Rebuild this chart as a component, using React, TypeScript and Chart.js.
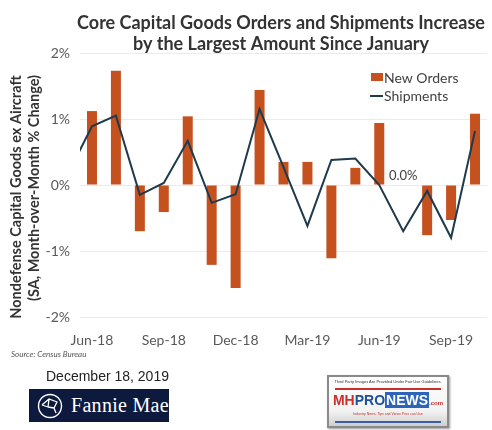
import React, { useEffect, useRef } from "react";
import { Chart, registerables } from "chart.js";
Chart.register(...registerables);

const MONTHS = ["May-18", "Jun-18", "Jul-18", "Aug-18", "Sep-18", "Oct-18", "Nov-18", "Dec-18", "Jan-19", "Feb-19", "Mar-19", "Apr-19", "May-19", "Jun-19", "Jul-19", "Aug-19", "Sep-19", "Oct-19"];
const NEW_ORDERS: (number | null)[] = [null, 1.12, 1.73, -0.7, -0.41, 1.04, -1.21, -1.56, 1.44, 0.35, 0.35, -1.11, 0.26, 0.94, 0.0, -0.76, -0.53, 1.08];
const SHIPMENTS = [0.17, 0.89, 1.05, -0.15, 0.03, 0.67, -0.27, -0.14, 1.15, 0.27, -0.62, 0.38, 0.4, 0.0, -0.7, -0.09, -0.8, 0.82];
const TICK_MONTHS = ["Jun-18", "Sep-18", "Dec-18", "Mar-19", "Jun-19", "Sep-19"];
const Y_TICKS = [-2, -1, 0, 1, 2];
const LABEL_MONTH = "Jul-19";
const LABEL_TEXT = "0.0%";

const TITLE = ["Core Capital Goods Orders and Shipments Increase", "by the Largest Amount Since January"];
const Y_TITLE = ["Nondefense Capital Goods ex Aircraft", "(SA, Month-over-Month % Change)"];

const ORANGE = "#C5511F";
const NAVY = "#1E3A4C";
const TEXT = "#404040";
const FONT = "Lato, 'Open Sans', sans-serif";

export default function App() {
  const ref = useRef<HTMLCanvasElement | null>(null);
  useEffect(() => {
    const canvas = ref.current!;
    const decor = {
      id: "decor",
      afterDraw(chart: any) {
        const ctx = chart.ctx as CanvasRenderingContext2D;
        const { x, y } = chart.scales;
        ctx.save();
        // title
        ctx.fillStyle = "#333";
        ctx.font = `bold 18px ${FONT}`;
        ctx.textAlign = "center";
        ctx.textBaseline = "middle";
        ctx.fillText(TITLE[0], 281, 23);
        ctx.fillText(TITLE[1], 281, 44);
        // y title
        ctx.fillStyle = "#333";
        ctx.font = `bold 14.5px ${FONT}`;
        ctx.save();
        ctx.translate(16, 197);
        ctx.rotate(-Math.PI / 2);
        ctx.fillText(Y_TITLE[0], 0, 0);
        ctx.restore();
        ctx.save();
        ctx.translate(34, 188);
        ctx.rotate(-Math.PI / 2);
        ctx.fillText(Y_TITLE[1], 0, 0);
        ctx.restore();
        // legend
        ctx.fillStyle = ORANGE;
        ctx.fillRect(371, 73, 12, 8);
        ctx.strokeStyle = NAVY;
        ctx.lineWidth = 2;
        ctx.beginPath();
        ctx.moveTo(370, 96);
        ctx.lineTo(383, 96);
        ctx.stroke();
        ctx.fillStyle = TEXT;
        ctx.font = `14px ${FONT}`;
        ctx.textAlign = "left";
        ctx.fillText("New Orders", 384, 78);
        ctx.fillText("Shipments", 384, 96);
        // data label
        ctx.textAlign = "center";
        ctx.font = `13px ${FONT}`;
        ctx.fillText(LABEL_TEXT, x.getPixelForValue(MONTHS.indexOf(LABEL_MONTH)), y.getPixelForValue(0) - 9);
        // source
        ctx.textAlign = "left";
        ctx.font = `italic 8px ${FONT}`;
        ctx.fillStyle = "#555";
        ctx.fillText("Source: Census Bureau", 11, 354);
        // date
        ctx.font = `14px 'Liberation Sans', Arial, sans-serif`;
        ctx.fillStyle = "#222";
        ctx.fillText("December 18, 2019", 46, 377);
        ctx.restore();
      },
    };
    const chart = new Chart(canvas, {
      data: {
        datasets: [
          {
            type: "line",
            label: "Shipments",
            data: SHIPMENTS.map((v, i) => ({ x: i, y: v })),
            borderColor: NAVY,
            borderWidth: 2,
            pointRadius: 0,
            tension: 0,
            clip: 0,
            order: 0,
          },
          {
            type: "bar",
            label: "New Orders",
            data: NEW_ORDERS.map((v, i) => ({ x: i, y: v })).filter((d) => d.y !== null) as any,
            backgroundColor: ORANGE,
            barThickness: 10,
            inflateAmount: 0,
            borderWidth: 0,
            order: 1,
          },
        ],
      },
      options: {
        animation: false,
        responsive: false,
        maintainAspectRatio: false,
        layout: { padding: { top: 53, right: 5, bottom: 83, left: 0 } },
        plugins: { legend: { display: false }, tooltip: { enabled: false }, title: { display: false } },
        scales: {
          x: {
            type: "linear",
            offset: false,
            min: 0.5,
            max: MONTHS.length - 0.5,
            grid: { display: false, drawTicks: false, offset: false },
            border: { display: false },
            afterBuildTicks: (s: any) => {
              s.ticks = TICK_MONTHS.map((m) => ({ value: MONTHS.indexOf(m) }));
            },
            afterFit: (s: any) => {
              s.height = 30;
            },
            ticks: {
              autoSkip: false,
              maxRotation: 0,
              padding: 15,
              color: "#595959",
              font: { family: FONT, size: 14 },
              callback: (v: any) => MONTHS[Math.round(v)],
            },
          },
          y: {
            type: "linear",
            min: -2,
            max: 2,
            grid: { color: "#ebebeb", drawTicks: false, lineWidth: 1 },
            border: { display: false },
            afterBuildTicks: (s: any) => {
              s.ticks = Y_TICKS.map((v) => ({ value: v }));
            },
            afterFit: (s: any) => {
              s.width = 80;
            },
            ticks: {
              padding: 10,
              color: "#595959",
              font: { family: FONT, size: 14 },
              callback: (v: any) => `${v}%`,
            },
          },
        },
      },
      plugins: [decor],
    } as any);
    return () => chart.destroy();
  }, []);

  return (
    <div style={{ position: "fixed", left: 0, top: 0, width: 492, height: 430, background: "#fff", overflow: "hidden" }}>
      <canvas ref={ref} width={492} height={430} style={{ position: "absolute", left: 0, top: 0, width: 492, height: 430 }} />
      <div
        style={{
          position: "absolute", left: 29, top: 389, width: 140, height: 33, background: "#0E1A3D",
          display: "flex", alignItems: "center", fontFamily: "'Liberation Serif', 'DejaVu Serif', serif", color: "#fff",
          whiteSpace: "nowrap", overflow: "hidden",
        }}
      >
        <svg width="26" height="26" viewBox="0 0 26 26" style={{ marginLeft: 8, marginRight: 8, flex: "none" }}>
          <circle cx="13" cy="13" r="11.5" fill="none" stroke="#fff" strokeWidth="1.4" />
          <path d="M5 12 L12 6 L20 9 L17 15 L19 20 M12 6 L11 14 L5 12 M11 14 L17 15" fill="none" stroke="#fff" strokeWidth="1.3" />
        </svg>
        <span style={{ fontSize: 20, letterSpacing: 0.3 }}>Fannie Mae</span>
        <span style={{ fontSize: 5, alignSelf: "flex-start", marginTop: 9 }}>®</span>
      </div>
      <div
        style={{
          position: "absolute", left: 327, top: 375, width: 118, height: 49, border: "2px solid #8a8a8a",
          background: "linear-gradient(#ffffff, #f2f2f2 70%, #cfcfcf)", fontFamily: "'Liberation Sans', Arial, sans-serif",
          boxShadow: "1px 1px 2px #999",
        }}
      >
        <div style={{ fontSize: 4, color: "#333", textAlign: "center", marginTop: 2, whiteSpace: "nowrap" }}>
          Third Party Images Are Provided Under Fair Use Guidelines.
        </div>
        <div style={{ height: 2, background: "#c9302c", margin: "4px 6px 0" }} />
        <div style={{ textAlign: "center", marginTop: 2, fontWeight: "bold", fontSize: 14, lineHeight: "16px", whiteSpace: "nowrap" }}>
          <span style={{ color: "#c9302c" }}>MH</span>
          <span style={{ color: "#1f4e9a" }}>PRO</span>
          <span style={{ color: "#fff", background: "#2d63b8", padding: "0 1px" }}>NEWS</span>
          <span style={{ color: "#c9302c", fontSize: 6 }}>.com</span>
        </div>
        <div style={{ fontSize: 3.5, color: "#c9302c", textAlign: "center", marginTop: 1, whiteSpace: "nowrap" }}>
          Industry News, Tips and Views Pros can Use
        </div>
        <div style={{ height: 2, background: "#3b5ea8", margin: "5px 6px 0" }} />
      </div>
    </div>
  );
}
